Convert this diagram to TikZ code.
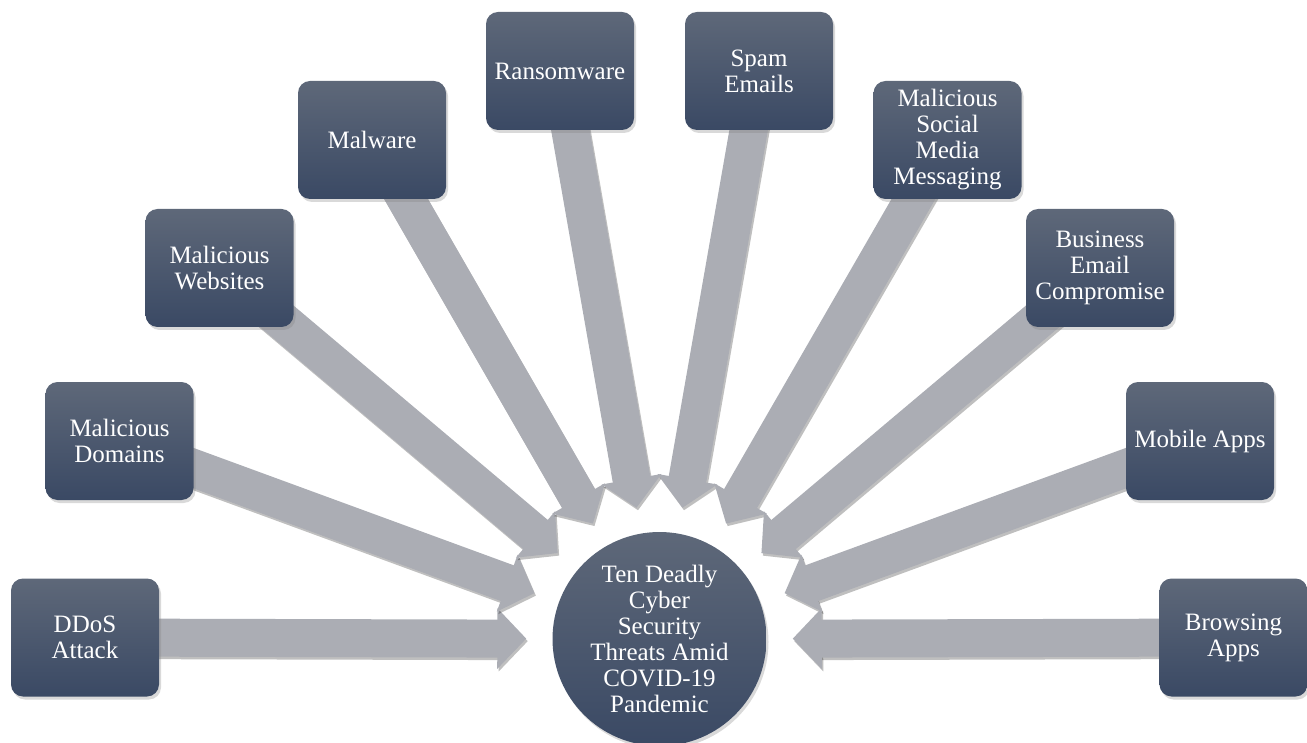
\documentclass[tikz,border=0pt]{standalone}
\usepackage{fontspec}
\setmainfont{Liberation Serif}
\usetikzlibrary{arrows.meta}
\usetikzlibrary{shadows}
\usetikzlibrary{backgrounds}

\definecolor{slatetop}{HTML}{5E6879}
\definecolor{slatemid}{HTML}{45546E}
\definecolor{slatebot}{HTML}{3A4964}
\definecolor{steelgray}{HTML}{ABADB4}

\begin{document}
\begin{tikzpicture}[x=1pt, y=-1pt,
    threat/.style={rectangle, rounded corners=12pt, minimum width=148pt,
        minimum height=118pt, inner sep=0pt, align=center, text=white,
        font=\fontsize{25}{26}\selectfont,
        top color=slatetop, middle color=slatemid, bottom color=slatebot,
        drop shadow={shadow xshift=2pt, shadow yshift=-3pt, opacity=0.3}},
    hub/.style={threat, circle, rounded corners=0pt, minimum size=214pt},
    feed/.style={draw=steelgray, line width=38pt,
        -{Triangle[length=29pt, width=59pt]}, shorten >=26pt},
    feedshade/.style={feed, draw=black, opacity=0.25}]

    \useasboundingbox (0,0) rectangle (1307,743);

    \node[threat] (ddos)     at (85,637.5)   {DDoS\\Attack};
    \node[threat] (domains)  at (119.5,441)  {Malicious\\Domains};
    \node[threat] (websites) at (219.5,268)  {Malicious\\Websites};
    \node[threat] (malware)  at (372,140)    {Malware};
    \node[threat] (ransom)   at (560,71)     {Ransomware};
    \node[threat] (spam)     at (759,71)     {Spam\\Emails};
    \node[threat] (social)   at (947.5,140)  {Malicious\\Social\\Media\\Messaging};
    \node[threat] (bec)      at (1100,268)   {Business\\Email\\Compromise};
    \node[threat] (mobile)   at (1200,441)   {Mobile Apps};
    \node[threat] (browsing) at (1233.5,637.5) {Browsing\\Apps};

    \node[hub] (hub) at (659.5,639)
        {Ten Deadly\\Cyber\\Security\\Threats Amid\\COVID-19\\Pandemic};

    \begin{pgfonlayer}{background}
        \foreach \t in {ddos, domains, websites, malware, ransom,
                        spam, social, bec, mobile, browsing} {
            \draw[feedshade, transform canvas={shift={(1.5pt,-2.5pt)}}]
                (\t.center) -- (hub);
            \draw[feed] (\t.center) -- (hub);
        }
    \end{pgfonlayer}
\end{tikzpicture}
\end{document}
